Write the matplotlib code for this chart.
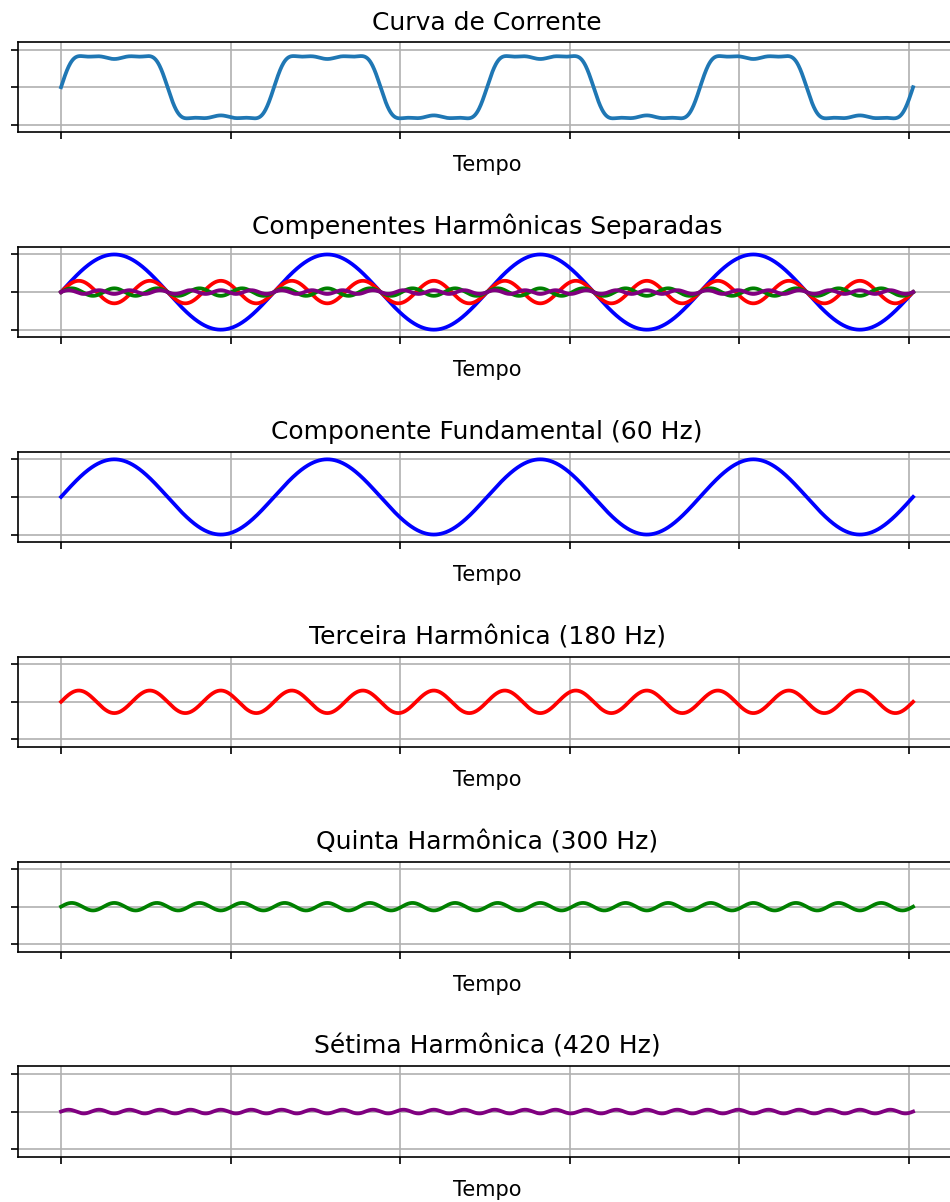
import matplotlib
matplotlib.use("Agg")
import matplotlib.pyplot as plt
import numpy as np

# 4 ciclos da fundamental, eixo em radianos
ciclos = 4
amostras = 2000

# amplitudes (relativas à fundamental)
amp_fund = 1.0
amp_h3 = 0.3
amp_h5 = 0.1
amp_h7 = 0.05

titulos = [
    "Curva de Corrente",
    "Compenentes Harmônicas Separadas",
    "Componente Fundamental (60 Hz)",
    "Terceira Harmônica (180 Hz)",
    "Quinta Harmônica (300 Hz)",
    "Sétima Harmônica (420 Hz)",
]
xticks = [0, 5, 10, 15, 20, 25]
yticks = [-1, 0, 1]

t = np.linspace(0, ciclos * 2 * np.pi, amostras)
fund = amp_fund * np.sin(t)
h3 = amp_h3 * np.sin(3 * t)
h5 = amp_h5 * np.sin(5 * t)
h7 = amp_h7 * np.sin(7 * t)
corrente = fund + h3 + h5 + h7

dpi = 150
fig, axes = plt.subplots(6, 1, figsize=(950 / dpi, 1202 / dpi), dpi=dpi)
fig.subplots_adjust(left=0.0194, right=1.006, top=0.965, bottom=0.0377, hspace=1.27)

lw = 1.8
axes[0].plot(t, corrente, color="#1f77b4", lw=lw)

axes[1].plot(t, fund, color="blue", lw=lw)
axes[1].plot(t, h3, color="red", lw=lw)
axes[1].plot(t, h5, color="green", lw=lw)
axes[1].plot(t, h7, color="purple", lw=lw)

axes[2].plot(t, fund, color="blue", lw=lw)
axes[3].plot(t, h3, color="red", lw=lw)
axes[4].plot(t, h5, color="green", lw=lw)
axes[5].plot(t, h7, color="purple", lw=lw)

for ax, titulo in zip(axes, titulos):
    ax.set_title(titulo, fontsize=12)
    ax.set_xlabel("Tempo", fontsize=10)
    ax.set_ylim(-1.2, 1.2)
    ax.set_xticks(xticks)
    ax.set_yticks(yticks)
    ax.set_xticklabels([])
    ax.set_yticklabels([])
    ax.grid(True)

fig.savefig("out.png", dpi=dpi)
